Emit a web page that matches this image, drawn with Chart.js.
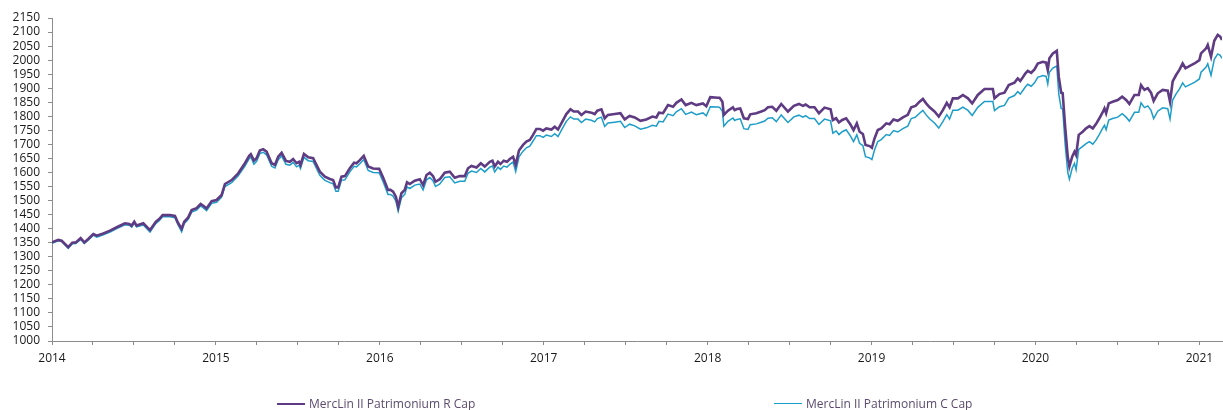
<!DOCTYPE html>
<html>
<head>
<meta charset="utf-8">
<script src="https://cdn.jsdelivr.net/npm/chart.js@4.4.1/dist/chart.umd.min.js"></script>
<style>
  html, body { margin: 0; padding: 0; background: #ffffff; }
  #wrap { position: relative; width: 1223px; height: 410px; overflow: hidden; }
  canvas { position: absolute; left: 0; top: 0; }
  .leg { position: absolute; top: 397px; font-family: "Open Sans", "Noto Sans", sans-serif; font-size: 12px; line-height: 14px; color: #5b4a6e; white-space: nowrap; }
  .leg span.sw { display: inline-block; width: 28px; vertical-align: middle; margin-right: 4px; position: relative; top: -1px; }
</style>
</head>
<body>
<div id="wrap">
  <canvas id="c" width="1223" height="410"></canvas>
  <div class="leg" id="leg0" style="left:277px;"><span class="sw" id="sw0"></span><span id="lt0"></span></div>
  <div class="leg" id="leg1" style="left:774px;"><span class="sw" id="sw1"></span><span id="lt1"></span></div>
</div>
<script>
// ---- DATA ----
const seriesNames = ["MercLin II Patrimonium R Cap", "MercLin II Patrimonium C Cap"];

// dates as decimal years
const dates = [
2014.000,2014.038,2014.059,2014.099,2014.124,2014.145,2014.175,2014.197,2014.221,2014.252,
2014.273,2014.313,2014.354,2014.395,2014.445,2014.471,2014.486,2014.502,2014.516,2014.557,
2014.598,2014.634,2014.654,2014.675,2014.720,2014.750,2014.770,2014.791,2014.807,2014.831,
2014.852,2014.882,2014.907,2014.927,2014.943,2014.974,2015.004,2015.035,2015.055,2015.096,
2015.136,2015.177,2015.203,2015.213,2015.232,2015.248,2015.268,2015.288,2015.309,2015.340,
2015.360,2015.380,2015.401,2015.427,2015.451,2015.471,2015.492,2015.508,2015.516,2015.537,
2015.563,2015.593,2015.634,2015.665,2015.695,2015.715,2015.732,2015.746,2015.766,2015.787,
2015.817,2015.843,2015.858,2015.878,2015.902,2015.929,2015.959,2015.996,2016.020,2016.050,
2016.065,2016.081,2016.098,2016.112,2016.132,2016.152,2016.166,2016.183,2016.213,2016.244,
2016.264,2016.285,2016.305,2016.325,2016.340,2016.366,2016.396,2016.427,2016.457,2016.488,
2016.518,2016.538,2016.559,2016.590,2016.616,2016.640,2016.671,2016.687,2016.701,2016.721,
2016.736,2016.756,2016.776,2016.793,2016.813,2016.829,2016.849,2016.874,2016.894,2016.915,
2016.935,2016.955,2016.976,2016.996,2017.016,2017.047,2017.067,2017.087,2017.114,2017.138,
2017.163,2017.183,2017.209,2017.230,2017.256,2017.291,2017.311,2017.327,2017.352,2017.372,
2017.392,2017.433,2017.468,2017.494,2017.524,2017.555,2017.590,2017.626,2017.663,2017.687,
2017.703,2017.728,2017.758,2017.789,2017.809,2017.840,2017.866,2017.901,2017.931,2017.971,
2017.992,2018.016,2018.063,2018.073,2018.090,2018.099,2018.124,2018.154,2018.165,2018.179,
2018.199,2018.221,2018.246,2018.260,2018.297,2018.327,2018.348,2018.368,2018.394,2018.419,
2018.449,2018.490,2018.526,2018.557,2018.581,2018.598,2018.622,2018.652,2018.679,2018.713,
2018.750,2018.764,2018.784,2018.801,2018.821,2018.845,2018.870,2018.890,2018.910,2018.927,
2018.947,2018.963,2018.988,2019.002,2019.018,2019.038,2019.059,2019.090,2019.110,2019.134,
2019.160,2019.191,2019.221,2019.242,2019.268,2019.293,2019.313,2019.333,2019.354,2019.384,
2019.410,2019.435,2019.459,2019.476,2019.496,2019.527,2019.557,2019.588,2019.614,2019.648,
2019.689,2019.720,2019.740,2019.750,2019.780,2019.811,2019.837,2019.872,2019.892,2019.907,
2019.923,2019.939,2019.953,2019.974,2019.994,2020.014,2020.045,2020.065,2020.075,2020.085,
2020.106,2020.130,2020.142,2020.157,2020.166,2020.181,2020.197,2020.207,2020.224,2020.238,
2020.248,2020.264,2020.288,2020.309,2020.329,2020.350,2020.370,2020.390,2020.407,2020.421,
2020.431,2020.447,2020.471,2020.502,2020.529,2020.553,2020.573,2020.604,2020.630,2020.644,
2020.665,2020.685,2020.705,2020.721,2020.746,2020.776,2020.807,2020.821,2020.837,2020.858,
2020.878,2020.898,2020.915,2020.939,2020.970,2021.000,2021.010,2021.041,2021.051,2021.071,
2021.091,2021.112,2021.127,2021.138
];

const rCap = [
1351,1360,1357,1334,1350,1351,1366,1351,1363,1381,
1375,1383,1393,1405,1419,1417,1411,1425,1411,1419,
1395,1425,1434,1448,1448,1445,1419,1400,1425,1440,
1466,1473,1488,1480,1472,1498,1502,1520,1559,1573,
1597,1633,1659,1665,1642,1651,1678,1683,1674,1633,
1627,1656,1670,1641,1638,1648,1633,1638,1627,1666,
1654,1651,1603,1585,1577,1573,1547,1547,1585,1587,
1615,1635,1633,1644,1659,1621,1614,1613,1582,1538,
1538,1532,1514,1478,1526,1538,1565,1559,1571,1576,
1555,1591,1599,1587,1567,1576,1599,1603,1581,1587,
1587,1615,1623,1618,1633,1621,1638,1642,1621,1638,
1630,1642,1638,1648,1656,1627,1678,1698,1710,1716,
1734,1755,1755,1749,1757,1753,1763,1753,1782,1808,
1825,1817,1817,1805,1817,1813,1808,1820,1825,1793,
1805,1808,1811,1789,1801,1796,1784,1789,1799,1796,
1813,1811,1840,1834,1848,1860,1840,1848,1840,1846,
1836,1868,1866,1866,1852,1805,1820,1832,1822,1826,
1828,1793,1790,1807,1811,1817,1822,1832,1834,1820,
1844,1817,1837,1844,1837,1842,1832,1832,1811,1831,
1825,1787,1793,1778,1787,1793,1772,1751,1775,1745,
1737,1698,1694,1688,1721,1751,1757,1775,1772,1789,
1784,1796,1805,1832,1837,1852,1862,1846,1832,1817,
1799,1822,1848,1832,1864,1864,1876,1864,1846,1876,
1897,1897,1897,1864,1879,1884,1911,1920,1935,1926,
1939,1953,1962,1955,1967,1988,1994,1991,1965,2007,
2024,2033,1941,1884,1882,1763,1656,1621,1656,1674,
1662,1734,1745,1757,1765,1757,1773,1793,1811,1828,
1811,1846,1852,1858,1870,1858,1844,1876,1876,1911,
1894,1900,1884,1855,1882,1894,1891,1852,1924,1947,
1965,1988,1971,1979,1988,2000,2024,2042,2054,2012,
2069,2090,2084,2072
];

const cCap = [
1348,1357,1354,1330,1346,1347,1362,1347,1359,1377,
1370,1378,1388,1400,1414,1412,1405,1420,1406,1413,
1388,1419,1428,1442,1442,1439,1412,1389,1418,1433,
1459,1466,1481,1472,1464,1490,1494,1512,1550,1564,
1588,1623,1649,1655,1630,1640,1667,1672,1663,1622,
1616,1645,1659,1629,1626,1636,1620,1626,1614,1654,
1642,1639,1590,1572,1564,1560,1533,1533,1572,1574,
1602,1622,1620,1631,1646,1607,1600,1599,1567,1522,
1522,1516,1498,1462,1510,1522,1549,1543,1555,1559,
1538,1574,1582,1570,1550,1559,1582,1585,1563,1569,
1569,1597,1605,1600,1614,1602,1619,1623,1602,1619,
1611,1623,1619,1629,1637,1603,1656,1676,1688,1694,
1712,1731,1731,1725,1733,1728,1738,1728,1757,1782,
1798,1790,1790,1778,1790,1786,1780,1792,1797,1764,
1776,1779,1782,1760,1772,1766,1754,1759,1768,1765,
1782,1780,1808,1802,1816,1827,1807,1815,1806,1812,
1802,1834,1833,1832,1818,1765,1782,1794,1785,1789,
1791,1756,1753,1770,1773,1779,1783,1793,1795,1781,
1805,1778,1798,1804,1797,1802,1792,1792,1771,1790,
1784,1740,1748,1735,1745,1752,1731,1710,1734,1704,
1696,1656,1652,1646,1680,1710,1717,1735,1732,1749,
1744,1756,1765,1792,1797,1811,1821,1805,1791,1776,
1758,1781,1806,1790,1822,1822,1833,1821,1803,1832,
1853,1853,1853,1820,1834,1839,1865,1874,1888,1879,
1892,1905,1914,1907,1919,1939,1945,1942,1915,1957,
1972,1979,1880,1828,1826,1700,1600,1576,1615,1632,
1610,1682,1693,1703,1710,1701,1716,1736,1754,1768,
1752,1787,1792,1797,1809,1797,1783,1814,1814,1848,
1831,1837,1821,1792,1818,1830,1827,1790,1858,1880,
1897,1919,1905,1912,1921,1933,1957,1975,1987,1946,
2003,2022,2017,2006
];

const yMin = 1000, yMax = 2150, yStep = 50;
const xMin = 2014, xMax = 2021.138;
const xTickYears = [2014, 2015, 2016, 2017, 2018, 2019, 2020, 2021];

// ---- CHART ----
const purple = "#5e3b82";
const cyan = "#1d9dc9";
const axisGray = "#8c8c8c";
const fontFam = "'Open Sans', 'Noto Sans', sans-serif";

const rData = dates.map((d, i) => ({ x: d, y: rCap[i] }));
const cData = dates.map((d, i) => ({ x: d, y: cCap[i] }));

document.getElementById("lt0").textContent = seriesNames[0];
document.getElementById("lt1").textContent = seriesNames[1];
document.getElementById("sw0").style.borderTop = "2.5px solid " + purple;
document.getElementById("sw1").style.borderTop = "1.5px solid " + cyan;

new Chart(document.getElementById("c"), {
  type: "line",
  data: {
    datasets: [
      { label: seriesNames[0], data: rData, borderColor: purple, borderWidth: 2.6, pointRadius: 0, tension: 0, fill: false },
      { label: seriesNames[1], data: cData, borderColor: cyan, borderWidth: 1.5, pointRadius: 0, tension: 0, fill: false }
    ]
  },
  options: {
    responsive: false,
    animation: false,
    events: [],
    layout: { padding: { top: 18, right: 1, left: 0, bottom: 0 } },
    plugins: { legend: { display: false }, tooltip: { enabled: false } },
    scales: {
      x: {
        type: "linear",
        min: xMin,
        max: xMax,
        afterBuildTicks: (scale) => {
          const t = [];
          for (let y = xTickYears[0]; y <= xTickYears[xTickYears.length - 1] + 1e-9; y += 0.25) t.push({ value: y });
          scale.ticks = t;
        },
        afterFit: (scale) => { scale.height = 69; },
        grid: { drawOnChartArea: false, drawTicks: true, tickLength: 4, color: axisGray },
        border: { display: true, color: axisGray, width: 1 },
        ticks: {
          autoSkip: false,
          maxRotation: 0,
          padding: 6,
          color: "#1a1a1a",
          font: { family: fontFam, size: 12 },
          callback: (v) => (Math.abs(v - Math.round(v)) < 1e-6 && xTickYears.includes(Math.round(v))) ? String(Math.round(v)) : ""
        }
      },
      y: {
        min: yMin,
        max: yMax,
        afterFit: (scale) => { scale.width = 52; },
        grid: { drawOnChartArea: false, drawTicks: true, tickLength: 4, color: axisGray },
        border: { display: true, color: axisGray, width: 1 },
        ticks: {
          stepSize: yStep,
          autoSkip: false,
          padding: 8,
          color: "#1a1a1a",
          font: { family: fontFam, size: 12 },
          callback: (v) => String(v)
        }
      }
    }
  }
});
</script>
</body>
</html>
